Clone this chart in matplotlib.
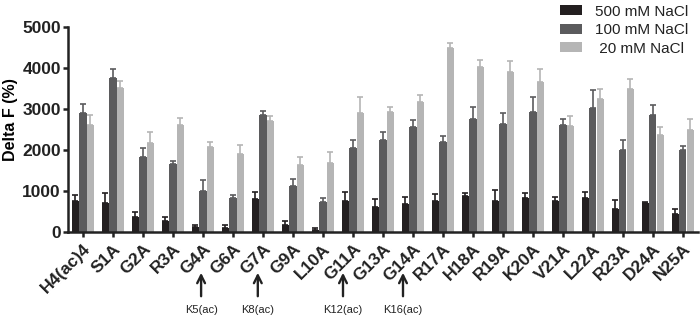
import numpy as np
import matplotlib
matplotlib.use('Agg')
import matplotlib.pyplot as plt
import matplotlib.transforms as mtransforms

matplotlib.rcParams['font.family'] = ['Liberation Sans', 'DejaVu Sans']

# data
mutants = ['H4(ac)4', 'S1A', 'G2A', 'R3A', 'G4A', 'G6A', 'G7A', 'G9A', 'L10A', 'G11A',
           'G13A', 'G14A', 'R17A', 'H18A', 'R19A', 'K20A', 'V21A', 'L22A', 'R23A', 'D24A', 'N25A']
nacl_500 = [760, 720, 360, 280, 130, 100, 810, 180, 60, 750,
            620, 690, 760, 880, 760, 840, 750, 830, 570, 700, 440]
err_500 = [150, 220, 130, 80, 40, 80, 170, 90, 40, 230,
           180, 160, 170, 60, 270, 100, 100, 150, 220, 40, 120]
nacl_100 = [2900, 3750, 1820, 1650, 1000, 830, 2860, 1120, 730, 2050,
            2250, 2560, 2200, 2750, 2630, 2920, 2600, 3020, 2010, 2850, 2000]
err_100 = [220, 230, 230, 80, 260, 80, 100, 170, 100, 190,
           200, 160, 130, 290, 260, 380, 160, 440, 240, 240, 100]
nacl_20 = [2600, 3500, 2180, 2600, 2070, 1900, 2700, 1640, 1680, 2900,
           2920, 3180, 4480, 4030, 3900, 3650, 2580, 3250, 3480, 2360, 2490]
err_20 = [250, 180, 250, 180, 130, 230, 120, 200, 280, 380,
          130, 160, 120, 170, 270, 320, 250, 230, 250, 200, 260]
series_labels = ['500 mM NaCl', '100 mM NaCl', ' 20 mM NaCl']
acetyl_sites = {'G4A': 'K5(ac)', 'G7A': 'K8(ac)', 'G11A': 'K12(ac)', 'G14A': 'K16(ac)'}
arrow_shift = {'G4A': -0.06, 'G7A': -0.17, 'G11A': -0.33, 'G14A': -0.33}

colors = ['#231f20', '#5b5b5d', '#b5b5b5']

fig = plt.figure(figsize=(7.0, 3.17), dpi=100)
ax = fig.add_axes([0.097, 0.268, 0.9, 0.647])

x = np.arange(len(mutants))
w = 0.24
for i, (vals, errs) in enumerate([(nacl_500, err_500), (nacl_100, err_100), (nacl_20, err_20)]):
    pos = x + (i - 1) * (w + 0.01)
    ax.bar(pos, vals, width=w, color=colors[i], label=series_labels[i], zorder=2)
    ax.errorbar(pos, vals, yerr=[np.zeros(len(errs)), errs], fmt='none',
                ecolor=colors[i], elinewidth=1.2, capsize=2.0, capthick=1.2, zorder=3)

ax.set_xlim(-0.5, len(mutants) - 0.5)
ax.set_ylim(0, 5000)
ax.set_yticks([0, 1000, 2000, 3000, 4000, 5000])
ax.set_xticks(x)
ax.set_xticklabels(mutants, rotation=45, ha='right', rotation_mode='anchor',
                   fontsize=12.5, fontweight='bold')
for lab in ax.get_yticklabels():
    lab.set_fontweight('bold')
    lab.set_fontsize(12.5)
ax.set_ylabel('Delta F (%)', fontsize=11.5, fontweight='bold')
ax.yaxis.set_label_coords(-0.079, 0.546)

for s in ['top', 'right']:
    ax.spines[s].set_visible(False)
for s in ['left', 'bottom']:
    ax.spines[s].set_linewidth(1.8)
    ax.spines[s].set_color('#222222')
ax.tick_params(axis='both', width=1.8, length=3.6, color='#222222', colors='#222222')
ax.tick_params(axis='y', pad=1.5)
ax.tick_params(axis='x', pad=3)

# arrows marking acetylated lysine positions
trans = mtransforms.blended_transform_factory(ax.transData, fig.transFigure)
for name, txt in acetyl_sites.items():
    xp = mutants.index(name) + arrow_shift[name]
    ax.annotate('', xy=(xp, 1 - 270 / 317), xytext=(xp, 1 - 299 / 317),
                xycoords=trans, textcoords=trans,
                arrowprops=dict(arrowstyle='->', lw=1.7, color='#222222',
                                mutation_scale=14), annotation_clip=False)
    ax.text(xp, 1 - 310 / 317, txt, transform=trans, ha='center', va='center',
            fontsize=8, color='#222222')

leg = fig.legend(loc='upper right', bbox_to_anchor=(0.992, 1.005), borderaxespad=0,
                 frameon=False, fontsize=11, handlelength=1.45, handleheight=0.65,
                 labelspacing=0.3, handletextpad=0.85)
for t in leg.get_texts():
    t.set_color('#222222')

plt.savefig('out.png', dpi=100)
